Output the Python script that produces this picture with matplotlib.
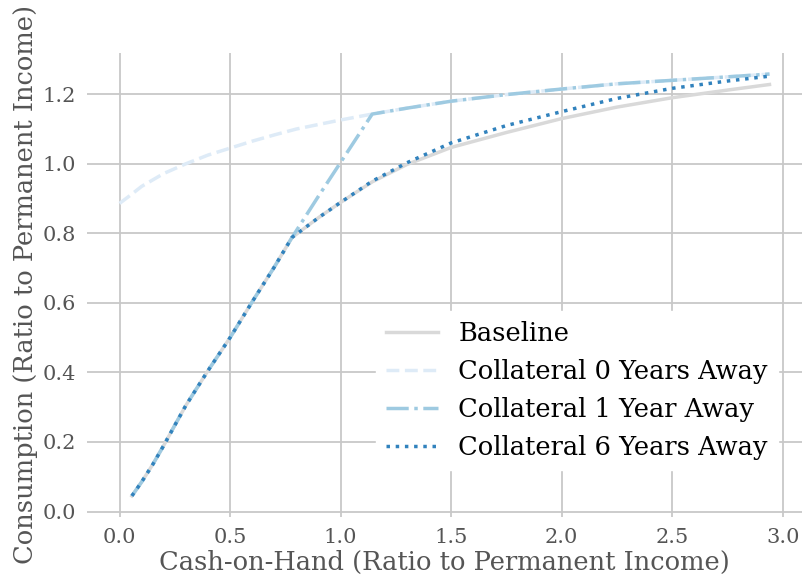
import numpy as np
import matplotlib
matplotlib.use("Agg")
import matplotlib.pyplot as plt

# cash-on-hand grid shared by baseline / 1 yr / 6 yr curves
mGrid = [0.056, 0.1, 0.15, 0.2, 0.25, 0.3, 0.4, 0.5, 0.6, 0.7, 0.78, 0.9, 1.0,
         1.143, 1.3, 1.5, 1.75, 2.0, 2.25, 2.5, 2.75, 2.94]

cBaseline = [0.045, 0.085, 0.135, 0.19, 0.248, 0.305, 0.405, 0.5, 0.603, 0.703, 0.788,
             0.845, 0.889, 0.948, 0.998, 1.047, 1.09, 1.13, 1.163, 1.19, 1.212, 1.228]

cColl1 = [0.045, 0.085, 0.135, 0.19, 0.248, 0.305, 0.405, 0.5, 0.603, 0.703, 0.788,
          0.907, 1.004, 1.143, 1.16, 1.18, 1.199, 1.215, 1.23, 1.24, 1.25, 1.258]

cColl6 = [0.045, 0.085, 0.135, 0.19, 0.248, 0.305, 0.405, 0.5, 0.603, 0.703, 0.788,
          0.845, 0.889, 0.95, 1.003, 1.06, 1.11, 1.15, 1.188, 1.217, 1.238, 1.252]

# collateral 0 years away starts at zero cash-on-hand
mColl0 = [0.0, 0.05, 0.1, 0.2, 0.3, 0.4, 0.5, 0.6, 0.7, 0.8, 0.9, 1.0,
          1.143, 1.3, 1.5, 1.75, 2.0, 2.25, 2.5, 2.75, 2.94]
cColl0 = [0.886, 0.91, 0.935, 0.972, 1.0, 1.025, 1.045, 1.065, 1.083, 1.1, 1.113, 1.126,
          1.143, 1.16, 1.18, 1.199, 1.215, 1.23, 1.24, 1.25, 1.258]

labels = ["Baseline", "Collateral 0 Years Away", "Collateral 1 Year Away", "Collateral 6 Years Away"]

plt.rcParams['font.family'] = ['DejaVu Serif']

fig = plt.figure(figsize=(8.02, 5.79), dpi=100)
ax = fig.add_axes([0.1085, 0.1071, 0.8915, 0.8014])

lw = 2.5
ax.plot(mGrid, cBaseline, color='#d9d9d9', lw=lw, ls='-', label=labels[0])
ax.plot(mColl0, cColl0, color='#deebf7', lw=lw, ls='--', label=labels[1])
ax.plot(mGrid, cColl1, color='#9ecae1', lw=lw, ls='-.', label=labels[2])
ax.plot(mGrid, cColl6, color='#3182bd', lw=lw, ls=':', label=labels[3])

ax.set_xticks([0.0, 0.5, 1.0, 1.5, 2.0, 2.5, 3.0])
ax.set_yticks([0.0, 0.2, 0.4, 0.6, 0.8, 1.0, 1.2])
ax.grid(True, color='#c8c8c8', lw=1.3)
ax.set_axisbelow(True)
for s in ax.spines.values() :
	s.set_visible(False)
ax.tick_params(length=0, labelsize=15, labelcolor='#555555', pad=8)

ax.set_xlabel('Cash-on-Hand (Ratio to Permanent Income)', fontsize=18.5, color='#555555', labelpad=2)
ax.set_ylabel('Consumption (Ratio to Permanent Income)', fontsize=18.5, color='#555555', labelpad=3)

leg = ax.legend(loc='lower right', bbox_to_anchor=(778/802, 109/579), bbox_transform=fig.transFigure,
                borderaxespad=0, fontsize=18.5, frameon=True, framealpha=1.0, fancybox=False)
leg.get_frame().set_edgecolor('white')

fig.savefig('out.png', dpi=100)
